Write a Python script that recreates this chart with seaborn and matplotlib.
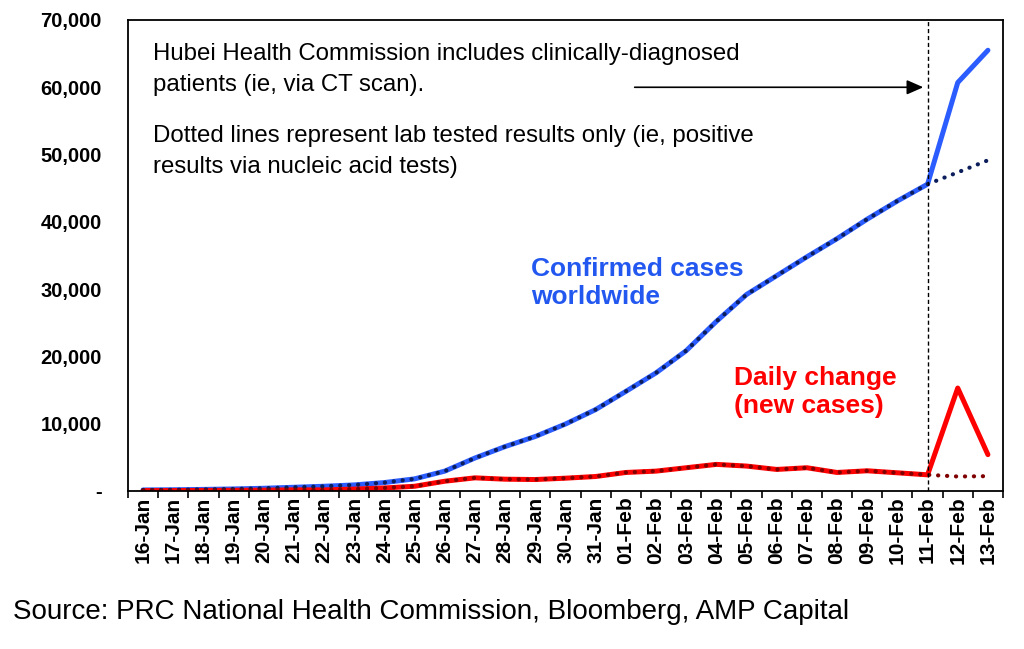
import matplotlib
matplotlib.use("Agg")
import matplotlib.pyplot as plt
import seaborn as sns
from matplotlib.ticker import FuncFormatter, FixedLocator

dates = ["16-Jan", "17-Jan", "18-Jan", "19-Jan", "20-Jan", "21-Jan", "22-Jan", "23-Jan",
         "24-Jan", "25-Jan", "26-Jan", "27-Jan", "28-Jan", "29-Jan", "30-Jan", "31-Jan",
         "01-Feb", "02-Feb", "03-Feb", "04-Feb", "05-Feb", "06-Feb", "07-Feb", "08-Feb",
         "09-Feb", "10-Feb", "11-Feb", "12-Feb", "13-Feb"]

confirmed = [150, 180, 230, 300, 400, 550, 700, 900, 1250, 1800, 2950, 4900, 6600, 8100,
             9950, 12100, 14800, 17550, 20850, 25200, 29200, 32000, 34800, 37500, 40400,
             43100, 45600, 60700, 65500]
confirmed_lab = confirmed[:27] + [47350, 49150]

daily = [60, 60, 80, 100, 120, 170, 160, 280, 450, 700, 1450, 1950, 1750, 1700, 1900,
         2150, 2750, 2950, 3450, 3950, 3700, 3200, 3450, 2750, 3000, 2700, 2400, 15300, 5400]
daily_lab = daily[:27] + [2150, 2200]

yticks = [0, 10000, 20000, 30000, 40000, 50000, 60000, 70000]

sns.set_style("white")
plt.rcParams['font.family'] = ['Liberation Sans', 'DejaVu Sans']
plt.rcParams['text.color'] = 'black'
plt.rcParams['xtick.color'] = 'black'
plt.rcParams['ytick.color'] = 'black'

fig = plt.figure(figsize=(10.24, 6.49), dpi=100)
ax = fig.add_axes([0.125, 0.2435, 0.8545, 0.7257])

blue = "#2B5CFF"
navy = "#0B1E5B"
red = "#FF0000"
darkred = "#800000"

sns.lineplot(x=dates, y=confirmed, ax=ax, color=blue, lw=3.6, sort=False)
sns.lineplot(x=dates, y=daily, ax=ax, color=red, lw=3.6, sort=False)
sns.lineplot(x=dates, y=confirmed_lab, ax=ax, color=navy, lw=3.0, sort=False)
sns.lineplot(x=dates, y=daily_lab, ax=ax, color=darkred, lw=3.0, sort=False)
for ln in ax.lines[2:]:
    ln.set_linestyle((0, (0.05, 2.1)))
    ln.set_dash_capstyle("round")

n = len(dates)
ax.set_xlim(-0.5, n - 0.5)
ax.set_ylim(0, 70000)
ax.set_yticks(yticks)
ax.yaxis.set_major_formatter(FuncFormatter(lambda v, p: "-" if v == 0 else f"{int(v):,}"))
ax.set_xticks(range(n))
ax.set_xticklabels(dates, rotation=90, fontsize=15, fontweight="bold")
ax.xaxis.set_minor_locator(FixedLocator([i - 0.5 for i in range(n + 1)]))
ax.tick_params(axis="x", which="major", length=0, pad=4)
ax.tick_params(axis="x", which="minor", length=5, width=1.2, color="black", direction="out", bottom=True)
ax.tick_params(axis="y", which="major", length=0, pad=19, labelsize=14.5)
for t in ax.get_yticklabels():
    t.set_fontweight("bold")
ax.set_xlabel("")
ax.set_ylabel("")
for s in ax.spines.values():
    s.set_visible(True)
    s.set_color("black")
    s.set_linewidth(1.3)

# vertical dashed line at 11-Feb
ax.axvline(dates.index("11-Feb"), color="black", lw=1.0, ls=(0, (3, 2)))

# annotations
ax.text(0.028, 0.951, "Hubei Health Commission includes clinically-diagnosed\npatients (ie, via CT scan).",
        transform=ax.transAxes, fontsize=17.3, va="top", ha="left", linespacing=1.5)
ax.text(0.028, 0.777, "Dotted lines represent lab tested results only (ie, positive\nresults via nucleic acid tests)",
        transform=ax.transAxes, fontsize=17.3, va="top", ha="left", linespacing=1.5)
ax.annotate("", xy=(25.95, 60000), xytext=(16.2, 60000),
            arrowprops=dict(arrowstyle="-|>,head_length=0.5,head_width=0.22", color="black",
                            lw=1.2, mutation_scale=20))

ax.text(12.85, 30900, "Confirmed cases\nworldwide", color="#2358F0", fontsize=19,
        fontweight="bold", ha="left", va="center", linespacing=1.25)
ax.text(19.57, 14700, "Daily change\n(new cases)", color=red, fontsize=19,
        fontweight="bold", ha="left", va="center", linespacing=1.25)

fig.text(0.013, 0.057, "Source: PRC National Health Commission, Bloomberg, AMP Capital",
         fontsize=20, ha="left", va="center")

fig.savefig("out.png", dpi=100, facecolor="white")
